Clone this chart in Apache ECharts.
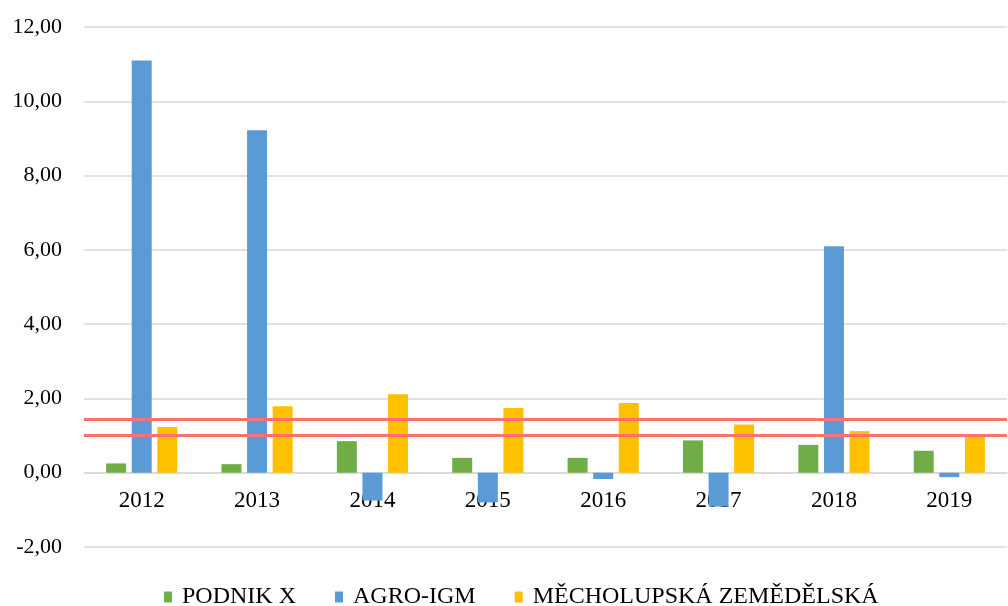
<!DOCTYPE html>
<html>
<head>
<meta charset="utf-8">
<script src="https://cdn.jsdelivr.net/npm/echarts@6/dist/echarts.min.js"></script>
<style>
  html, body { margin: 0; padding: 0; background: #fff; }
  #chart { width: 1008px; height: 606px; }
</style>
</head>
<body>
<div id="chart"></div>
<script>
var years = ["2012", "2013", "2014", "2015", "2016", "2017", "2018", "2019"];
var podnikX = [0.25, 0.23, 0.85, 0.4, 0.4, 0.87, 0.75, 0.59];
var agroIgm = [11.1, 9.22, -0.75, -0.8, -0.17, -0.91, 6.1, -0.12];
var mecholupska = [1.23, 1.79, 2.11, 1.74, 1.88, 1.3, 1.12, 1.02];
var limits = [1.0, 1.44];

var fontName = "Liberation Serif";
var chart = echarts.init(document.getElementById("chart"));

var option = {
  animation: false,
  grid: {
    left: 84,
    right: 1,
    top: 27,
    bottom: 59,
  },
  legend: {
    left: 159,
    top: 580,
    itemWidth: 8,
    itemHeight: 11,
    itemGap: 39,
    icon: "rect",
    textStyle: {
      fontFamily: fontName,
      fontSize: 24,
      color: "#000",
      padding: [0, 0, 0, 5],
    },
    data: ["PODNIK X", "AGRO-IGM", "MĚCHOLUPSKÁ ZEMĚDĚLSKÁ"],
  },
  xAxis: {
    type: "category",
    data: years,
    axisLine: {
      onZero: true,
      lineStyle: { color: "#d9d9d9", width: 1.5 },
    },
    axisTick: { show: false },
    axisLabel: {
      // labels sit just under the zero line
      margin: -58,
      fontFamily: fontName,
      fontSize: 23,
      color: "#000",
    },
  },
  yAxis: {
    type: "value",
    min: -2,
    max: 12,
    interval: 2,
    axisLine: { show: false },
    axisTick: { show: false },
    axisLabel: {
      margin: 22,
      fontFamily: fontName,
      fontSize: 22,
      color: "#000",
      formatter: function (v) {
        return v.toFixed(2).replace(".", ",");
      },
    },
    splitLine: {
      lineStyle: { color: "#d9d9d9", width: 1.5 },
    },
  },
  series: [
    {
      name: "PODNIK X",
      type: "bar",
      data: podnikX,
      barWidth: 20,
      barGap: "28%",
      itemStyle: { color: "#70ad47" },
    },
    {
      name: "AGRO-IGM",
      type: "bar",
      data: agroIgm,
      barWidth: 20,
      barGap: "28%",
      itemStyle: { color: "#5b9bd5" },
    },
    {
      name: "MĚCHOLUPSKÁ ZEMĚDĚLSKÁ",
      type: "bar",
      data: mecholupska,
      barWidth: 20,
      barGap: "28%",
      itemStyle: { color: "#ffc000" },
      markLine: {
        silent: true,
        symbol: "none",
        label: { show: false },
        lineStyle: { color: "#ff7070", width: 3, type: "solid" },
        data: limits.map(function (v) {
          return { yAxis: v };
        }),
      },
    },
  ],
};
chart.setOption(option);
</script>
</body>
</html>
